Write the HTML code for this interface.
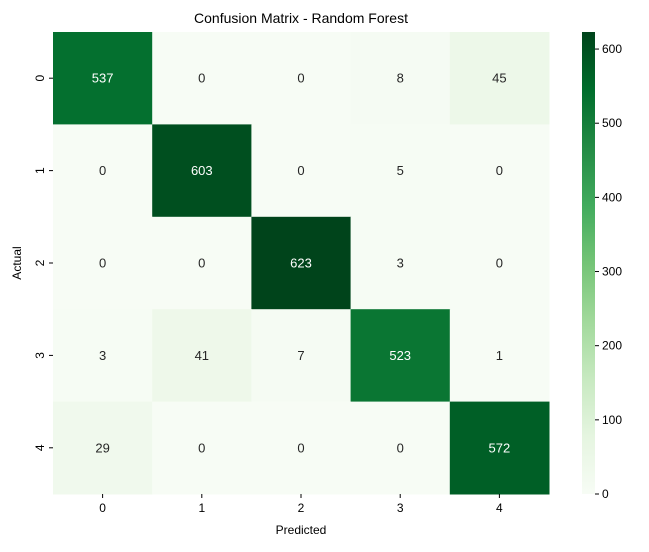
<!DOCTYPE html>
<html><head><meta charset="utf-8"><style>
body{margin:0;background:#fff;}
svg text{font-family:"Liberation Sans","DejaVu Sans",sans-serif;}
</style></head><body>
<svg id="c" width="649" height="547" xmlns="http://www.w3.org/2000/svg">
<defs><linearGradient id="g" x1="0" y1="1" x2="0" y2="0">
<stop offset="0" stop-color="#f7fcf5"/><stop offset="0.125" stop-color="#e5f5e0"/><stop offset="0.25" stop-color="#c7e9c0"/><stop offset="0.375" stop-color="#a1d99b"/><stop offset="0.5" stop-color="#74c476"/><stop offset="0.625" stop-color="#41ab5d"/><stop offset="0.75" stop-color="#238b45"/><stop offset="0.875" stop-color="#006d2c"/><stop offset="1" stop-color="#00441b"/>
</linearGradient></defs>
<text x="301" y="23" text-anchor="middle" font-size="14">Confusion Matrix - Random Forest</text>
<g id="cells"></g>
<rect x="582" y="32" width="13" height="462" fill="url(#g)"/>
<g id="cb"></g>
<text x="301" y="534" text-anchor="middle" font-size="12">Predicted</text>
<text x="21" y="263" text-anchor="middle" font-size="12" transform="rotate(-90 21 263)">Actual</text>
</svg>
<script>
const labels=["0","1","2","3","4"];
const matrix=[[537,0,0,8,45],[0,603,0,5,0],[0,0,623,3,0],[3,41,7,523,1],[29,0,0,0,572]];
const cbTicks=[0,100,200,300,400,500,600];
const X0=53,X1=549,Y0=32,Y1=494;
const vmax=Math.max(...matrix.flat()),vmin=Math.min(...matrix.flat());
const stops=["#f7fcf5","#e5f5e0","#c7e9c0","#a1d99b","#74c476","#41ab5d","#238b45","#006d2c","#00441b"].map(h=>[1,3,5].map(i=>parseInt(h.substr(i,2),16)));
function col(v){let t=(v-vmin)/(vmax-vmin)*8;let i=Math.min(7,Math.floor(t)),f=t-i;return stops[i].map((a,k)=>Math.round(a+(stops[i+1][k]-a)*f));}
const n=labels.length,cw=(X1-X0)/n,ch=(Y1-Y0)/n;
const ns="http://www.w3.org/2000/svg",cells=document.getElementById('cells'),cb=document.getElementById('cb');
function mk(tag,at,p){const e=document.createElementNS(ns,tag);for(const k in at)e.setAttribute(k,at[k]);p.appendChild(e);return e;}
matrix.forEach((row,r)=>row.forEach((v,c)=>{
 const rgb=col(v);
 const rc=mk('rect',{x:X0+c*cw,y:Y0+r*ch,width:cw+0.5,height:ch+0.5,fill:`rgb(${rgb})`},cells);
 
 
 const lum=(0.2126*rgb[0]+0.7152*rgb[1]+0.0722*rgb[2])/255;
 const t=mk('text',{x:X0+(c+0.5)*cw,y:Y0+(r+0.5)*ch+4.5,'text-anchor':'middle','font-size':'13',fill:lum>0.408?'#262626':'#fff'},cells);
 t.textContent=v;
 
 
}));
labels.forEach((l,i)=>{
 const x=X0+(i+0.5)*cw,y=Y0+(i+0.5)*ch;
 mk('line',{x1:x,x2:x,y1:Y1,y2:Y1+4,stroke:'#000'},cells);
 const tx=mk('text',{x:x,y:Y1+18,'text-anchor':'middle','font-size':'12'},cells);tx.textContent=l;
 
 
 mk('line',{x1:X0-4,x2:X0,y1:y,y2:y,stroke:'#000'},cells);
 const ty=mk('text',{x:X0-9,y:y,'text-anchor':'middle','font-size':'12',transform:`rotate(-90 ${X0-9} ${y})`},cells);ty.textContent=l;
 
 
});
cbTicks.forEach(v=>{
 const y=Y1-(v-vmin)/(vmax-vmin)*(Y1-Y0);
 mk('line',{x1:595,x2:599,y1:y,y2:y,stroke:'#000'},cb);
 const t=mk('text',{x:602,y:y+4,'font-size':'12'},cb);t.textContent=v;
 
 
});
</script>
</body></html>
